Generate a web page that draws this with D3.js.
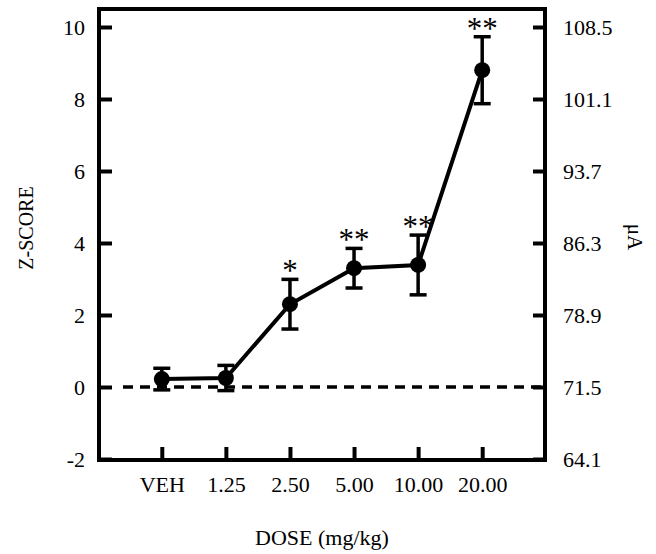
<!DOCTYPE html>
<html>
<head>
<meta charset="utf-8">
<script src="https://cdn.jsdelivr.net/npm/d3@7/dist/d3.min.js"></script>
<style>
  body { margin: 0; background: #fff; }
  svg { display: block; font-family: "Liberation Serif", "Times New Roman", serif; }
  text { fill: #000; }
</style>
</head>
<body>
<script>
// data
const doses = ["VEH", "1.25", "2.50", "5.00", "10.00", "20.00"];
const zMean = [0.22, 0.25, 2.30, 3.30, 3.39, 8.80];
const zErr = [0.30, 0.35, 0.69, 0.55, 0.83, 0.93];
const stars = ["", "", "*", "**", "**", "**"];
const zTicks = [-2, 0, 2, 4, 6, 8, 10];
const uaTicks = [64.1, 71.5, 78.9, 86.3, 93.7, 101.1, 108.5];

const W = 656, H = 554;
const plotL = 99, plotR = 545, plotT = 9, plotB = 459;

const svg = d3.select("body").append("svg")
  .attr("width", W)
  .attr("height", H);

const x = d3.scalePoint().domain(doses).range([plotL, plotR]).padding(0.98);
const y = d3.scaleLinear().domain([-2, 10.5]).range([plotB, plotT]);
// right axis: 2 z-units = 7.4 uA, 0 z = 71.5 uA
const yUA = d3.scaleLinear().domain([64.1, 71.5 + 3.7 * 10.5]).range([plotB, plotT]);

const fs = 22;

// axes (ticks point inward)
const gx = svg.append("g")
  .attr("transform", `translate(0,${plotB})`)
  .call(d3.axisBottom(x).tickSize(-12).tickPadding(17));

const gy = svg.append("g")
  .attr("transform", `translate(${plotL},0)`)
  .call(d3.axisLeft(y).tickValues(zTicks).tickSize(-13).tickPadding(14).tickFormat(d3.format("d")));

const gy2 = svg.append("g")
  .attr("transform", `translate(${plotR},0)`)
  .call(d3.axisRight(yUA).tickValues(uaTicks).tickSize(-12).tickPadding(18).tickFormat(d3.format(".1f")));

[gx, gy, gy2].forEach(g => {
  g.select(".domain").remove();
  g.selectAll(".tick line").attr("stroke", "#000").attr("stroke-width", 4);
  g.selectAll(".tick text")
    .attr("fill", "#000")
    .attr("font-size", fs)
    .attr("font-family", "Liberation Serif, Times New Roman, serif");
});
gy.selectAll(".tick text").text(d => d < 0 ? "-" + Math.abs(d) : d);

// frame
svg.append("rect")
  .attr("x", plotL)
  .attr("y", plotT)
  .attr("width", plotR - plotL)
  .attr("height", plotB - plotT + 1)
  .attr("fill", "none")
  .attr("stroke", "#000")
  .attr("stroke-width", 4);

// zero reference line
svg.append("line")
  .attr("x1", plotL + 24)
  .attr("x2", plotR)
  .attr("y1", y(0))
  .attr("y2", y(0))
  .attr("stroke", "#000")
  .attr("stroke-width", 3.5)
  .attr("stroke-dasharray", "10,7");

const pts = doses.map((d, i) => ({ dose: d, m: zMean[i], e: zErr[i], s: stars[i] }));

// error bars
const eb = svg.append("g").selectAll("g").data(pts).join("g");
eb.append("line")
  .attr("x1", d => x(d.dose)).attr("x2", d => x(d.dose))
  .attr("y1", d => y(d.m - d.e)).attr("y2", d => y(d.m + d.e))
  .attr("stroke", "#000").attr("stroke-width", 3.5);
eb.append("line")
  .attr("x1", d => x(d.dose) - 8.5).attr("x2", d => x(d.dose) + 8.5)
  .attr("y1", d => y(d.m + d.e)).attr("y2", d => y(d.m + d.e))
  .attr("stroke", "#000").attr("stroke-width", 3.5);
eb.append("line")
  .attr("x1", d => x(d.dose) - 8.5).attr("x2", d => x(d.dose) + 8.5)
  .attr("y1", d => y(d.m - d.e)).attr("y2", d => y(d.m - d.e))
  .attr("stroke", "#000").attr("stroke-width", 3.5);

// mean line
svg.append("path")
  .datum(pts)
  .attr("fill", "none")
  .attr("stroke", "#000")
  .attr("stroke-width", 4)
  .attr("d", d3.line().x(d => x(d.dose)).y(d => y(d.m)));

svg.append("g").selectAll("circle").data(pts).join("circle")
  .attr("cx", d => x(d.dose))
  .attr("cy", d => y(d.m))
  .attr("r", 8)
  .attr("fill", "#000");

// significance marks
svg.append("g").selectAll("text").data(pts.filter(d => d.s)).join("text")
  .attr("x", d => x(d.dose))
  .attr("y", d => y(d.m + d.e) + 2)
  .attr("text-anchor", "middle")
  .attr("font-size", 31)
  .attr("fill", "#000")
  .text(d => d.s);

// axis titles
svg.append("text")
  .attr("transform", "translate(33,228) rotate(-90)")
  .attr("text-anchor", "middle")
  .attr("font-size", 20)
  .attr("fill", "#000")
  .text("Z-SCORE");

svg.append("text")
  .attr("transform", "translate(628,237) rotate(90)")
  .attr("text-anchor", "middle")
  .attr("font-size", 21)
  .attr("fill", "#000")
  .text("μA");

svg.append("text")
  .attr("x", (plotL + plotR) / 2)
  .attr("y", 545)
  .attr("text-anchor", "middle")
  .attr("font-size", fs)
  .attr("fill", "#000")
  .text("DOSE (mg/kg)");
</script>
</body>
</html>
